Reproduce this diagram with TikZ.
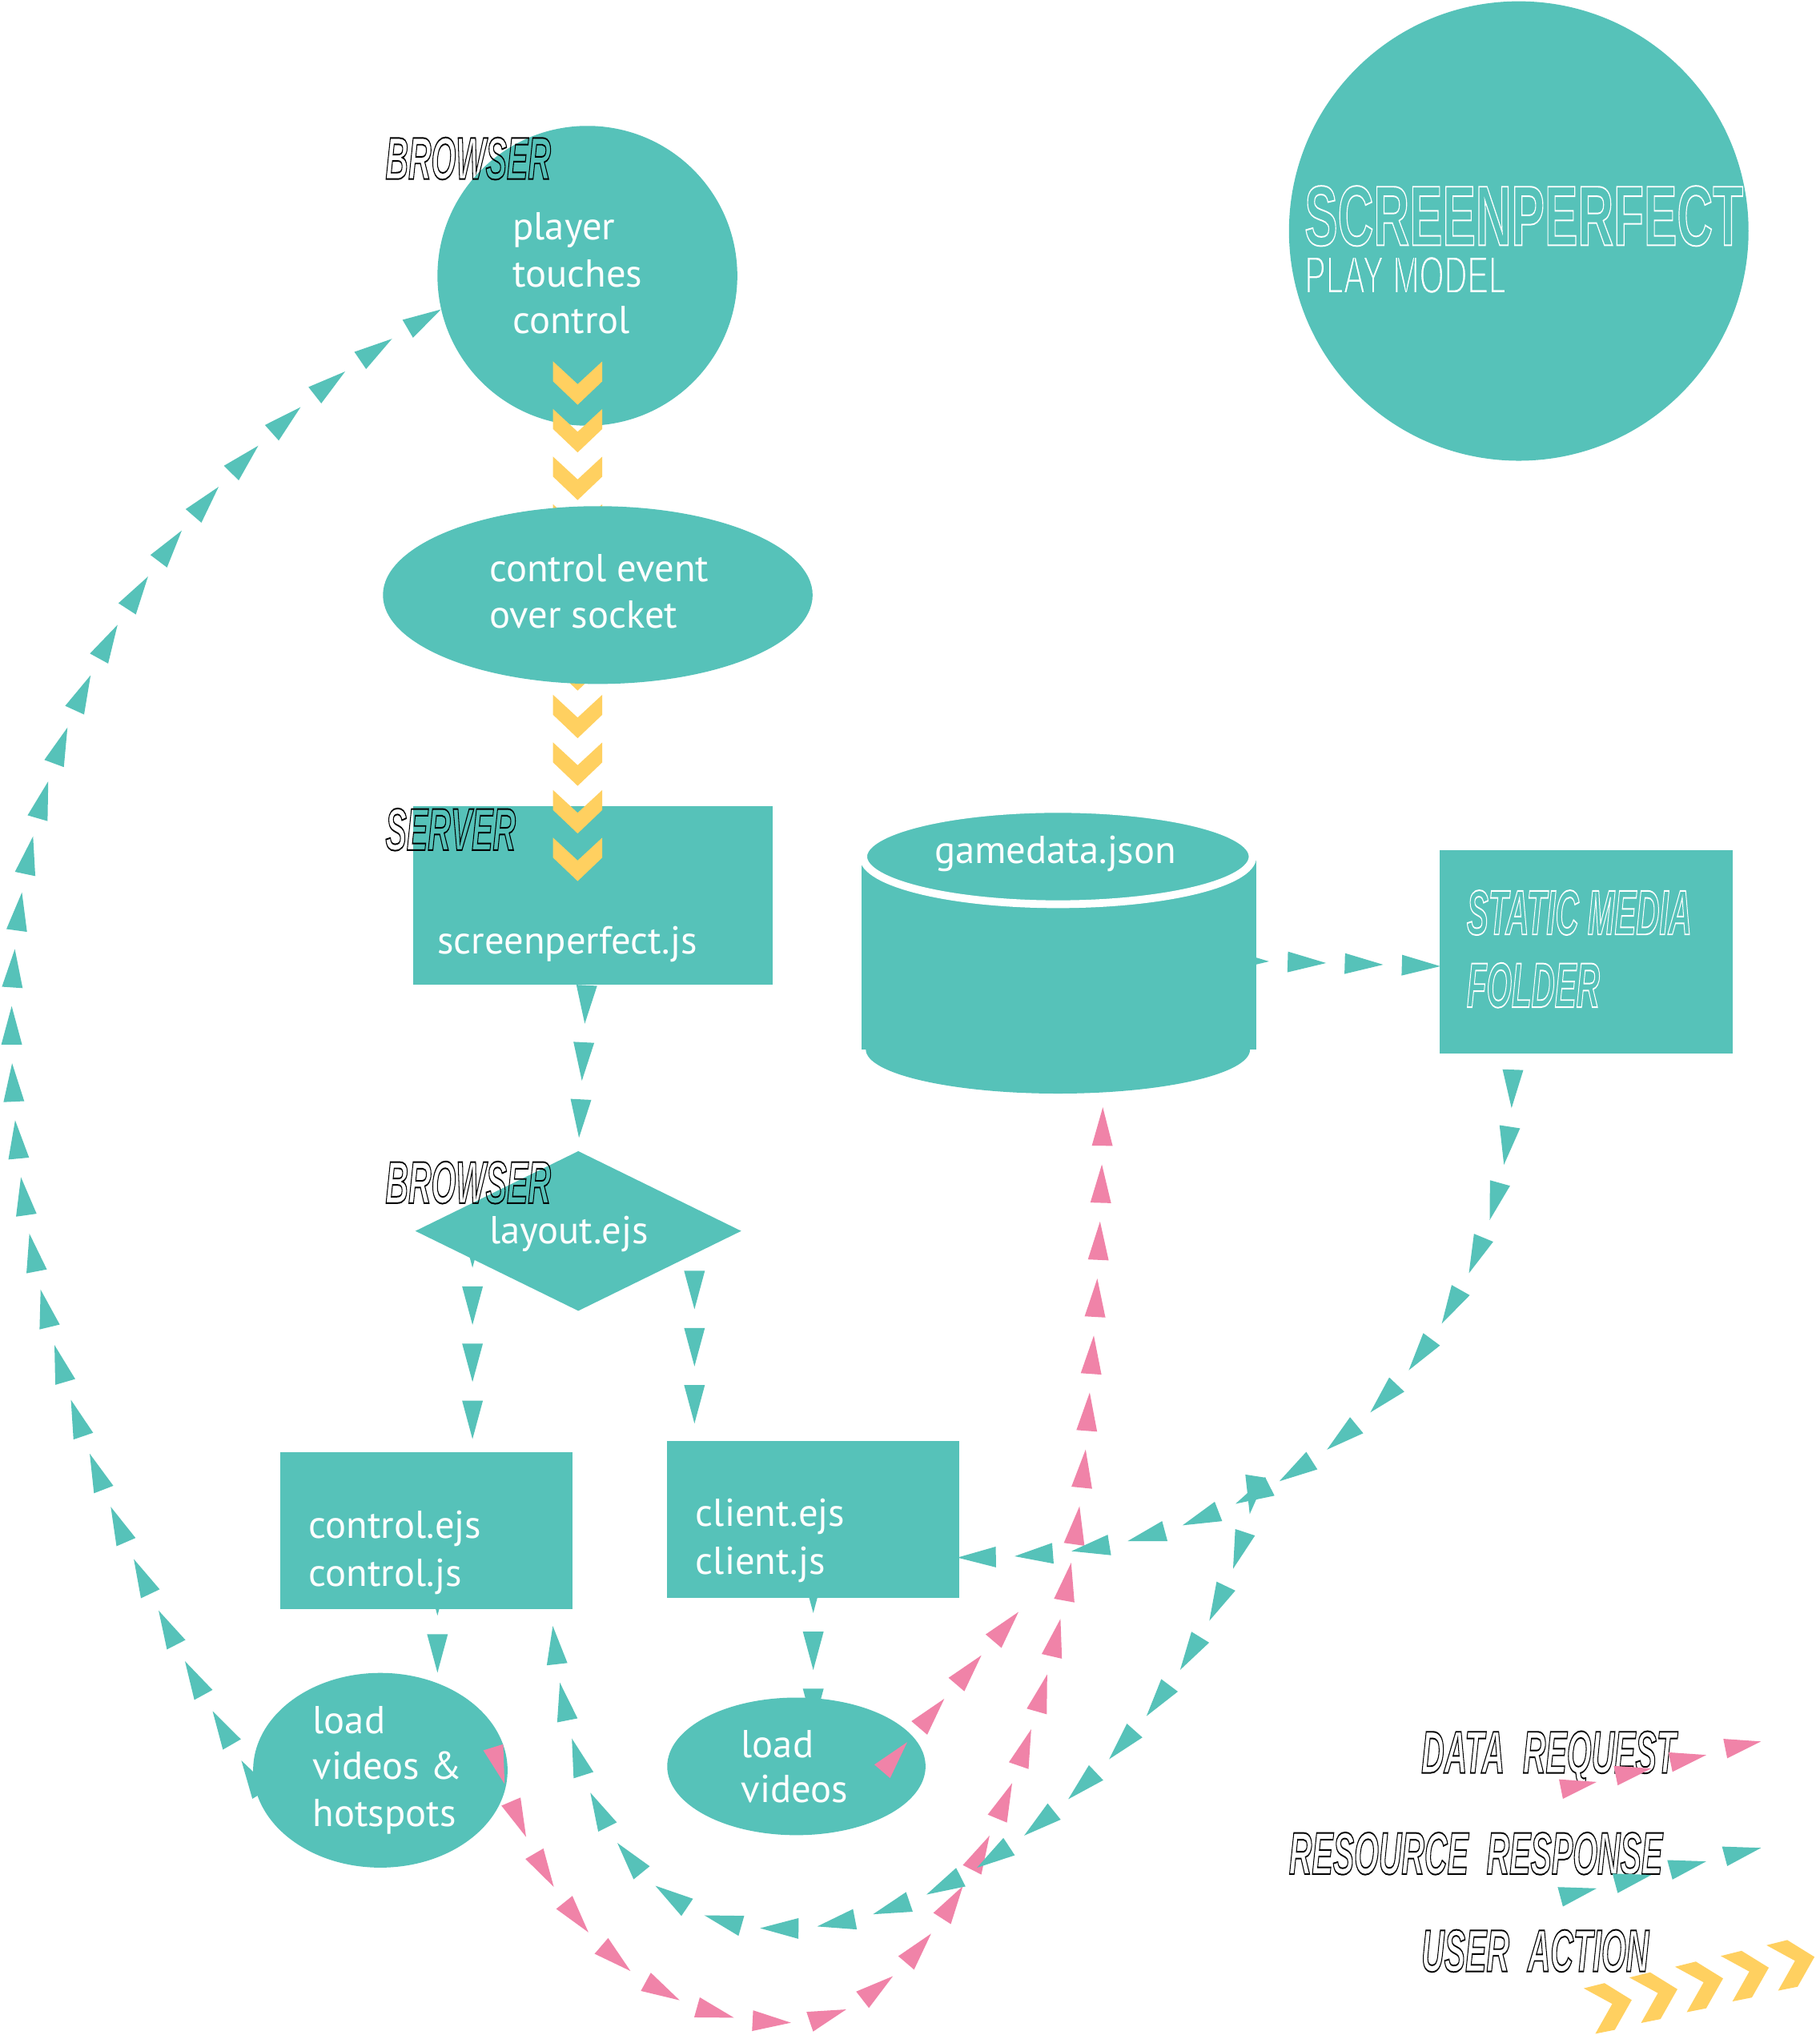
\documentclass[tikz,border=0pt]{standalone}
\usepackage{fontspec}
\usepackage{graphicx}
\setmainfont{PT Sans}
\newfontfamily\headf{Liberation Sans}
\usetikzlibrary{decorations.markings,calc,shapes.geometric}
\definecolor{tealc}{RGB}{86,194,185}
\definecolor{pinkc}{RGB}{240,131,168}
\definecolor{yelc}{RGB}{255,208,96}
\newcommand\olk[1]{\special{pdf:literal direct 1 Tr 0.6 w}#1\special{pdf:literal direct 0 Tr}}
\newcommand\thn[1]{\special{pdf:literal direct 2 Tr 0.7 w 0.337 0.761 0.725 RG}#1\special{pdf:literal direct 0 Tr}}
\newcommand\hdk[3]{\scalebox{#1}[1]{\headf\bfseries\itshape\fontsize{#2}{#2}\selectfont\olk{#3}}}
\begin{document}
\begin{tikzpicture}[x=0.5pt,y=-0.5pt,
  shp/.style={fill=tealc, draw=none, inner sep=0pt, outer sep=0pt},
  txt/.style={anchor=base west, inner sep=0pt, outer sep=0pt, text=white, font=\fontsize{15}{18}\selectfont},
  hd/.style={anchor=base west, inner sep=0pt, outer sep=0pt, text=black},
  flowf/.style 2 args={postaction={decorate},decoration={markings,
     mark=between positions #2 and 1 step 22pt with {\fill[#1] (-7.4pt,-4pt) -- (7.4pt,0pt) -- (-7.4pt,4pt) -- cycle;}}},
  flowr/.style 2 args={postaction={decorate},decoration={markings,
     mark=between positions #2 and 1 step 22pt with {\fill[#1] (7.4pt,-4pt) -- (-7.4pt,0pt) -- (7.4pt,4pt) -- cycle;}}},
  chev/.pic={\fill[yelc] (-19,0) -- (0,17.6) -- (19,0) -- (19,15.4) -- (0,33.5) -- (-19,15.4) -- cycle;}
]
\fill[white] (0,0) rectangle (1402,1568);
\useasboundingbox (0,0) rectangle (1402,1568);

% ---- shapes ----
\node[shp, circle, minimum size=177pt] (title) at (1170,178) {};
\node[shp, circle, minimum size=115.5pt] (player) at (452.5,212.5) {};
\node[shp, rectangle, minimum width=138.5pt, minimum height=69pt] (server) at (456.5,690) {};
\foreach \k in {0,...,10} \pic at (445,278.4+36.7*\k) {chev};
\node[shp, ellipse, minimum width=165.5pt, minimum height=68.5pt] (ctrlev) at (460.5,458.5) {};
\node[shp, diamond, minimum width=125.5pt, minimum height=61.5pt] (layout) at (445.5,948.5) {};
\node[shp, minimum width=112.5pt, minimum height=60.5pt] (ctrl) at (328.5,1179.5) {};
\node[shp, minimum width=112.5pt, minimum height=60.5pt] (client) at (626.5,1170.5) {};
\node[shp, ellipse, minimum width=98pt, minimum height=75pt] (lvh) at (293,1364) {};
\node[shp, ellipse, minimum width=99.5pt, minimum height=53pt] (lv) at (613.5,1361) {};
\node[shp, minimum width=113pt, minimum height=78.5pt] (static) at (1222,733.5) {};
% cylinder
\fill[tealc] (663.4,660) rectangle (967.8,808.6);
\fill[tealc] (815,808.6) ellipse [x radius=74pt, y radius=17pt];
\filldraw[fill=tealc, draw=white, line width=3pt] (815,660) ellipse [x radius=75pt, y radius=18.35pt];
\node[inner sep=0pt, outer sep=0pt, minimum width=152.2pt, minimum height=108.5pt] (gd) at (815.6,734) {};

% ---- connectors ----
\path[flowf={tealc}{7.5pt}] ($(server.south)+(-4.5,0)$) -- (layout.north);
\coordinate (dl) at ($(layout.center)+(-81.5,-8.5)$);
\path[flowf={tealc}{11pt}] (dl) -- (dl |- ctrl.north);
\coordinate (dr) at ($(layout.center)+(89.5,11.5)$);
\path[flowf={tealc}{17pt}] (dr) -- (dr |- client.north);
\coordinate (cs) at ($(ctrl.south)+(8.5,-24)$);
\path[flowf={tealc}{7pt}] (cs) -- (cs |- lvh.north);
\coordinate (ks) at ($(client.south)+(0,-31)$);
\path[flowf={tealc}{14pt}] (ks) -- ($(ks |- lv.north)+(0,22)$);
\path[flowf={tealc}{6.5pt}] ($(gd.east)+(-18,6)$) -- ($(static.west)+(0,11)$);

\path[flowr={tealc}{7.5pt}] (player.193) .. controls (208,311) and (9,490) .. (9,790)
   .. controls (9,1020) and (90,1198) .. (lvh.185);

\path[flowr={pinkc}{12.75pt}] ($(gd.south)+(34,0)$) .. controls (849,950) and (843,1030) .. (835,1130)
   .. controls (810,1380) and (710,1556) .. (610,1558)
   .. controls (500,1560) and (420,1480) .. ($(lvh.east)+(-8,-8)$);
\coordinate (pj) at (800,1224);
\path[flowf={pinkc}{7.5pt}] ($(lv.center)+(66,4)$) -- (pj);

\coordinate (J) at (965,1152);
\path[flowf={tealc}{13.5pt}] ($(static.south)+(-57,0)$) .. controls (1170,960) and (1090,1090) .. (J);
\path[flowf={tealc}{0pt}] (J) .. controls (890,1190) and (820,1200) .. ($(client.east)+(0,29.5)$);
\path[flowf={tealc}{0pt}] (J) .. controls (945,1281) and (812,1426) .. (690,1469)
   .. controls (530,1525) and (439,1439) .. ($(ctrl.south east)+(-16,0)$);

% ---- texts ----
\node[txt] (p1) at (395,185) {player};
\node[txt] (p2) at (395,221) {touches};
\node[txt] (p3) at (395,257) {control};
\node[txt] (e1) at (377,448) {control event};
\node[txt] (e2) at (377,484) {over socket};
\node[txt] (s1) at (337,735) {screenperfect.js};
\node[txt] (g1) at (720,665) {gamedata.json};
\node[txt] (l1) at (377,958) {layout.ejs};
\node[txt] (c1) at (238,1185) {control.ejs};
\node[txt] (c2) at (238,1222) {control.js};
\node[txt] (k1) at (536,1176) {client.ejs};
\node[txt] (k2) at (536,1213) {client.js};
\node[txt] (h1) at (241,1336) {load};
\node[txt] (h2) at (241,1371) {videos \&};
\node[txt] (h3) at (241,1407) {hotspots};
\node[txt] (v1) at (571,1354) {load};
\node[txt] (v2) at (571,1389) {videos};

\node[hd] (hb1) at (297,138) {\hdk{0.53}{23}{BROWSER}};
\node[hd] (hsv) at (297,655) {\hdk{0.53}{23}{SERVER}};
\node[hd] (hb2) at (297,927) {\hdk{0.53}{23}{BROWSER}};
\node[hd, text=white] (hs1) at (1130,720) {\hdk{0.51}{24.4}{STATIC MEDIA}};
\node[hd, text=white] (hs2) at (1130,776) {\hdk{0.51}{24.4}{FOLDER}};
\node[hd, text=white] (ttl) at (1005,189) {\scalebox{0.583}[1]{\headf\bfseries\fontsize{32.8}{32.8}\selectfont\olk{SCREENPERFECT}}};
\node[hd, text=white] (pm) at (1005,226) {\scalebox{0.6}[1]{\headf\fontsize{20.5}{20.5}\selectfont\thn{PLAY MODEL}}};
\node[hd] (lg1) at (1095,1366) {\hdk{0.53}{23}{DATA\hspace{0.3em} REQUEST}};
\node[hd] (lg2) at (993,1444) {\hdk{0.53}{23}{RESOURCE\hspace{0.3em} RESPONSE}};
\node[hd] (lg3) at (1095,1519) {\hdk{0.53}{23}{USER\hspace{0.3em} ACTION}};

% ---- legend marks ----
\foreach \i in {0,...,3} {
  \fill[pinkc, shift={(42.2*\i,-10.4*\i)}] (1201,1371) -- (1230,1373) -- (1204,1386) -- cycle;
  \fill[tealc, shift={(42.2*\i,-10.4*\i)}] (1200,1454) -- (1230,1455) -- (1204,1469) -- cycle;
}
\foreach \i in {0,...,4}
  \fill[yelc, shift={(35.2*\i,-8.3*\i)}] (1220,1532) -- (1236,1528) -- (1257,1541) -- (1244,1564) -- (1229,1567) -- (1242,1544) -- cycle;
\end{tikzpicture}
\end{document}
